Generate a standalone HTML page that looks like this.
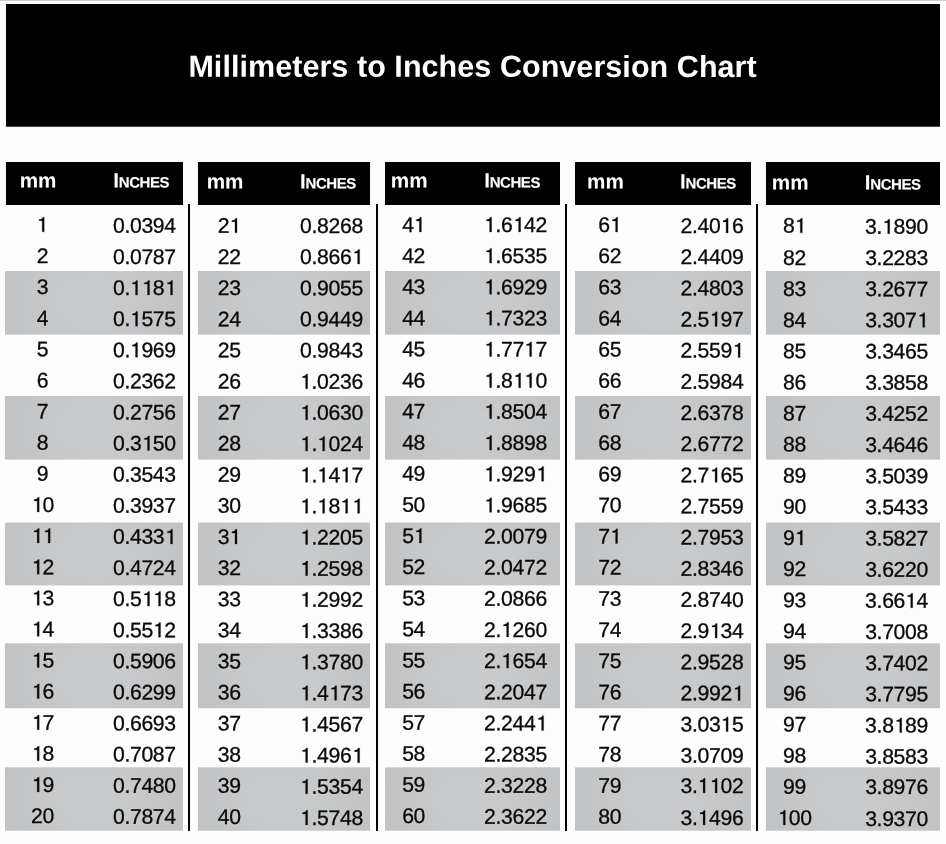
<!DOCTYPE html>
<html><head><meta charset="utf-8"><title>Millimeters to Inches Conversion Chart</title>
<style>
html,body{margin:0;padding:0;}
body{width:946px;height:844px;background:#fdfdfd;position:relative;overflow:hidden;font-family:"Liberation Sans",sans-serif;color:#000;}
#w{position:absolute;left:0;top:0;width:946px;height:844px;will-change:transform;}
.a{position:absolute;}
.t{position:absolute;white-space:nowrap;line-height:1;font-kerning:none;}
.n{font-size:21.2px;letter-spacing:-0.33px;color:#080808;-webkit-text-stroke:0.3px #080808;}
.o{width:11.79px;height:15.03px;margin-right:-0.33px;vertical-align:baseline;overflow:visible;fill:#080808;stroke:#080808;stroke-width:12;}
.m{width:100px;text-align:center;}
.i{width:100px;text-align:right;}
.h{font-weight:bold;color:#fff;font-size:20.7px;}
.hi span{display:inline-block;transform-origin:0 84.67%;}
.ci{transform:scaleY(1.0);}
.sc{font-size:15.0px;margin-left:-0.2px;letter-spacing:-0.45px;-webkit-text-stroke:0.15px #fff;transform:scaleY(1.0);}
.k{background:#000;}
.g{background:radial-gradient(ellipse 75% 150% at 50% 50%,#cbccce 0%,#c5c6c8 50%,#bcbdbf 100%);}
.e{background:#c2c3c5;}

</style></head>
<body><div id="w">
<div class="a" style="left:0;top:0;width:946px;height:1px;background:#cfcfcf"></div>
<div class="a k" style="left:6px;top:4px;width:934px;height:122px"></div><div class="a k" style="left:6px;top:126px;width:934px;height:1px;opacity:.72"></div>
<div class="t" id="title" style="left:188px;top:50px;transform:translate(0.40px,0.83px) rotate(0.03deg);font-size:30.5px;letter-spacing:0.06px;font-weight:bold;color:#fff">Millimeters to Inches Conversion Chart</div>
<div class="a k" style="left:6px;top:162px;width:177px;height:43px"></div>
<div class="a g" style="left:5px;top:271px;width:178px;height:63px"></div>
<div class="a e" style="left:5px;top:334px;width:178px;height:1px;opacity:0.60"></div>
<div class="a g" style="left:5px;top:396px;width:178px;height:63px"></div>
<div class="a e" style="left:5px;top:459px;width:178px;height:1px;opacity:0.60"></div>
<div class="a g" style="left:5px;top:523px;width:178px;height:62px"></div>
<div class="a e" style="left:5px;top:522px;width:178px;height:1px;opacity:0.50"></div>
<div class="a e" style="left:5px;top:585px;width:178px;height:1px;opacity:0.40"></div>
<div class="a g" style="left:5px;top:644px;width:178px;height:64px"></div>
<div class="a e" style="left:5px;top:643px;width:178px;height:1px;opacity:0.70"></div>
<div class="a e" style="left:5px;top:708px;width:178px;height:1px;opacity:0.20"></div>
<div class="a g" style="left:5px;top:768px;width:178px;height:62px"></div>
<div class="a e" style="left:5px;top:767px;width:178px;height:1px;opacity:0.70"></div>
<div class="a e" style="left:5px;top:830px;width:178px;height:1px;opacity:0.70"></div>
<div class="t h" id="hm0" style="left:19px;top:170px;transform:translate(0.64px,0.52px) rotate(0.03deg)">mm</div>
<div class="t h hi" id="hi0" style="left:113px;top:170px;transform:translate(0.25px,0.52px) rotate(0.03deg)"><span class="ci">I</span><span class="sc">NCHES</span></div>
<div class="t n m" id="m1" style="left:-8px;top:213px;transform:translate(0.44px,0.84px) rotate(0.03deg)"><svg class="o" viewBox="0 -709 556 709"><path d="M272,0H366V-690H306C294,-635 246,-592 126,-580V-520H272Z"/></svg></div><div class="t n i" id="i1" style="left:75px;top:214px;transform:translate(0.77px,0.79px) rotate(0.03deg)">0.0394</div>
<div class="t n m" id="m2" style="left:-8px;top:244px;transform:translate(0.44px,0.96px) rotate(0.03deg)">2</div><div class="t n i" id="i2" style="left:75px;top:245px;transform:translate(0.77px,0.90px) rotate(0.03deg)">0.0787</div>
<div class="t n m" id="m3" style="left:-8px;top:276px;transform:translate(0.44px,0.07px) rotate(0.03deg)">3</div><div class="t n i" id="i3" style="left:75px;top:277px;transform:translate(0.77px,0.00px) rotate(0.03deg)">0.<svg class="o" viewBox="0 -709 556 709"><path d="M272,0H366V-690H306C294,-635 246,-592 126,-580V-520H272Z"/></svg><svg class="o" viewBox="0 -709 556 709"><path d="M272,0H366V-690H306C294,-635 246,-592 126,-580V-520H272Z"/></svg>8<svg class="o" viewBox="0 -709 556 709"><path d="M272,0H366V-690H306C294,-635 246,-592 126,-580V-520H272Z"/></svg></div>
<div class="t n m" id="m4" style="left:-8px;top:307px;transform:translate(0.44px,0.19px) rotate(0.03deg)">4</div><div class="t n i" id="i4" style="left:75px;top:308px;transform:translate(0.77px,0.11px) rotate(0.03deg)">0.<svg class="o" viewBox="0 -709 556 709"><path d="M272,0H366V-690H306C294,-635 246,-592 126,-580V-520H272Z"/></svg>575</div>
<div class="t n m" id="m5" style="left:-8px;top:338px;transform:translate(0.44px,0.31px) rotate(0.03deg)">5</div><div class="t n i" id="i5" style="left:75px;top:339px;transform:translate(0.77px,0.21px) rotate(0.03deg)">0.<svg class="o" viewBox="0 -709 556 709"><path d="M272,0H366V-690H306C294,-635 246,-592 126,-580V-520H272Z"/></svg>969</div>
<div class="t n m" id="m6" style="left:-8px;top:369px;transform:translate(0.44px,0.43px) rotate(0.03deg)">6</div><div class="t n i" id="i6" style="left:75px;top:370px;transform:translate(0.77px,0.32px) rotate(0.03deg)">0.2362</div>
<div class="t n m" id="m7" style="left:-8px;top:400px;transform:translate(0.44px,0.54px) rotate(0.03deg)">7</div><div class="t n i" id="i7" style="left:75px;top:401px;transform:translate(0.77px,0.42px) rotate(0.03deg)">0.2756</div>
<div class="t n m" id="m8" style="left:-8px;top:431px;transform:translate(0.44px,0.66px) rotate(0.03deg)">8</div><div class="t n i" id="i8" style="left:75px;top:432px;transform:translate(0.77px,0.53px) rotate(0.03deg)">0.3<svg class="o" viewBox="0 -709 556 709"><path d="M272,0H366V-690H306C294,-635 246,-592 126,-580V-520H272Z"/></svg>50</div>
<div class="t n m" id="m9" style="left:-8px;top:462px;transform:translate(0.44px,0.78px) rotate(0.03deg)">9</div><div class="t n i" id="i9" style="left:75px;top:463px;transform:translate(0.77px,0.63px) rotate(0.03deg)">0.3543</div>
<div class="t n m" id="m10" style="left:-8px;top:493px;transform:translate(0.44px,0.89px) rotate(0.03deg)"><svg class="o" viewBox="0 -709 556 709"><path d="M272,0H366V-690H306C294,-635 246,-592 126,-580V-520H272Z"/></svg>0</div><div class="t n i" id="i10" style="left:75px;top:494px;transform:translate(0.77px,0.74px) rotate(0.03deg)">0.3937</div>
<div class="t n m" id="m11" style="left:-8px;top:525px;transform:translate(0.44px,0.01px) rotate(0.03deg)"><svg class="o" viewBox="0 -709 556 709"><path d="M272,0H366V-690H306C294,-635 246,-592 126,-580V-520H272Z"/></svg><svg class="o" viewBox="0 -709 556 709"><path d="M272,0H366V-690H306C294,-635 246,-592 126,-580V-520H272Z"/></svg></div><div class="t n i" id="i11" style="left:75px;top:525px;transform:translate(0.77px,0.84px) rotate(0.03deg)">0.433<svg class="o" viewBox="0 -709 556 709"><path d="M272,0H366V-690H306C294,-635 246,-592 126,-580V-520H272Z"/></svg></div>
<div class="t n m" id="m12" style="left:-8px;top:556px;transform:translate(0.44px,0.13px) rotate(0.03deg)"><svg class="o" viewBox="0 -709 556 709"><path d="M272,0H366V-690H306C294,-635 246,-592 126,-580V-520H272Z"/></svg>2</div><div class="t n i" id="i12" style="left:75px;top:556px;transform:translate(0.77px,0.95px) rotate(0.03deg)">0.4724</div>
<div class="t n m" id="m13" style="left:-8px;top:587px;transform:translate(0.44px,0.24px) rotate(0.03deg)"><svg class="o" viewBox="0 -709 556 709"><path d="M272,0H366V-690H306C294,-635 246,-592 126,-580V-520H272Z"/></svg>3</div><div class="t n i" id="i13" style="left:75px;top:588px;transform:translate(0.77px,0.05px) rotate(0.03deg)">0.5<svg class="o" viewBox="0 -709 556 709"><path d="M272,0H366V-690H306C294,-635 246,-592 126,-580V-520H272Z"/></svg><svg class="o" viewBox="0 -709 556 709"><path d="M272,0H366V-690H306C294,-635 246,-592 126,-580V-520H272Z"/></svg>8</div>
<div class="t n m" id="m14" style="left:-8px;top:618px;transform:translate(0.44px,0.36px) rotate(0.03deg)"><svg class="o" viewBox="0 -709 556 709"><path d="M272,0H366V-690H306C294,-635 246,-592 126,-580V-520H272Z"/></svg>4</div><div class="t n i" id="i14" style="left:75px;top:619px;transform:translate(0.77px,0.16px) rotate(0.03deg)">0.55<svg class="o" viewBox="0 -709 556 709"><path d="M272,0H366V-690H306C294,-635 246,-592 126,-580V-520H272Z"/></svg>2</div>
<div class="t n m" id="m15" style="left:-8px;top:649px;transform:translate(0.44px,0.48px) rotate(0.03deg)"><svg class="o" viewBox="0 -709 556 709"><path d="M272,0H366V-690H306C294,-635 246,-592 126,-580V-520H272Z"/></svg>5</div><div class="t n i" id="i15" style="left:75px;top:650px;transform:translate(0.77px,0.26px) rotate(0.03deg)">0.5906</div>
<div class="t n m" id="m16" style="left:-8px;top:680px;transform:translate(0.44px,0.60px) rotate(0.03deg)"><svg class="o" viewBox="0 -709 556 709"><path d="M272,0H366V-690H306C294,-635 246,-592 126,-580V-520H272Z"/></svg>6</div><div class="t n i" id="i16" style="left:75px;top:681px;transform:translate(0.77px,0.37px) rotate(0.03deg)">0.6299</div>
<div class="t n m" id="m17" style="left:-8px;top:711px;transform:translate(0.44px,0.71px) rotate(0.03deg)"><svg class="o" viewBox="0 -709 556 709"><path d="M272,0H366V-690H306C294,-635 246,-592 126,-580V-520H272Z"/></svg>7</div><div class="t n i" id="i17" style="left:75px;top:712px;transform:translate(0.77px,0.47px) rotate(0.03deg)">0.6693</div>
<div class="t n m" id="m18" style="left:-8px;top:742px;transform:translate(0.44px,0.83px) rotate(0.03deg)"><svg class="o" viewBox="0 -709 556 709"><path d="M272,0H366V-690H306C294,-635 246,-592 126,-580V-520H272Z"/></svg>8</div><div class="t n i" id="i18" style="left:75px;top:743px;transform:translate(0.77px,0.58px) rotate(0.03deg)">0.7087</div>
<div class="t n m" id="m19" style="left:-8px;top:773px;transform:translate(0.44px,0.95px) rotate(0.03deg)"><svg class="o" viewBox="0 -709 556 709"><path d="M272,0H366V-690H306C294,-635 246,-592 126,-580V-520H272Z"/></svg>9</div><div class="t n i" id="i19" style="left:75px;top:774px;transform:translate(0.77px,0.68px) rotate(0.03deg)">0.7480</div>
<div class="t n m" id="m20" style="left:-8px;top:805px;transform:translate(0.44px,0.06px) rotate(0.03deg)">20</div><div class="t n i" id="i20" style="left:75px;top:805px;transform:translate(0.77px,0.79px) rotate(0.03deg)">0.7874</div>
<div class="a k" style="left:198px;top:162px;width:172px;height:43px"></div>
<div class="a g" style="left:198px;top:271px;width:172px;height:63px"></div>
<div class="a e" style="left:198px;top:334px;width:172px;height:1px;opacity:0.60"></div>
<div class="a g" style="left:198px;top:396px;width:172px;height:63px"></div>
<div class="a e" style="left:198px;top:459px;width:172px;height:1px;opacity:0.60"></div>
<div class="a g" style="left:198px;top:523px;width:172px;height:62px"></div>
<div class="a e" style="left:198px;top:522px;width:172px;height:1px;opacity:0.50"></div>
<div class="a e" style="left:198px;top:585px;width:172px;height:1px;opacity:0.40"></div>
<div class="a g" style="left:198px;top:644px;width:172px;height:64px"></div>
<div class="a e" style="left:198px;top:643px;width:172px;height:1px;opacity:0.70"></div>
<div class="a e" style="left:198px;top:708px;width:172px;height:1px;opacity:0.20"></div>
<div class="a g" style="left:198px;top:768px;width:172px;height:62px"></div>
<div class="a e" style="left:198px;top:767px;width:172px;height:1px;opacity:0.70"></div>
<div class="a e" style="left:198px;top:830px;width:172px;height:1px;opacity:0.70"></div>
<div class="t h" id="hm1" style="left:206px;top:171px;transform:translate(0.64px,0.52px) rotate(0.03deg)">mm</div>
<div class="t h hi" id="hi1" style="left:299px;top:171px;transform:translate(0.95px,0.52px) rotate(0.03deg)"><span class="ci">I</span><span class="sc">NCHES</span></div>
<div class="t n m" id="m21" style="left:179px;top:214px;transform:translate(0.24px,0.84px) rotate(0.03deg)">2<svg class="o" viewBox="0 -709 556 709"><path d="M272,0H366V-690H306C294,-635 246,-592 126,-580V-520H272Z"/></svg></div><div class="t n i" id="i21" style="left:262px;top:214px;transform:translate(0.87px,0.89px) rotate(0.03deg)">0.8268</div>
<div class="t n m" id="m22" style="left:179px;top:245px;transform:translate(0.24px,0.95px) rotate(0.03deg)">22</div><div class="t n i" id="i22" style="left:262px;top:246px;transform:translate(0.87px,0.05px) rotate(0.03deg)">0.866<svg class="o" viewBox="0 -709 556 709"><path d="M272,0H366V-690H306C294,-635 246,-592 126,-580V-520H272Z"/></svg></div>
<div class="t n m" id="m23" style="left:179px;top:277px;transform:translate(0.24px,0.06px) rotate(0.03deg)">23</div><div class="t n i" id="i23" style="left:262px;top:277px;transform:translate(0.87px,0.21px) rotate(0.03deg)">0.9055</div>
<div class="t n m" id="m24" style="left:179px;top:308px;transform:translate(0.24px,0.17px) rotate(0.03deg)">24</div><div class="t n i" id="i24" style="left:262px;top:308px;transform:translate(0.87px,0.37px) rotate(0.03deg)">0.9449</div>
<div class="t n m" id="m25" style="left:179px;top:339px;transform:translate(0.24px,0.28px) rotate(0.03deg)">25</div><div class="t n i" id="i25" style="left:262px;top:339px;transform:translate(0.87px,0.53px) rotate(0.03deg)">0.9843</div>
<div class="t n m" id="m26" style="left:179px;top:370px;transform:translate(0.24px,0.39px) rotate(0.03deg)">26</div><div class="t n i" id="i26" style="left:262px;top:370px;transform:translate(0.87px,0.69px) rotate(0.03deg)"><svg class="o" viewBox="0 -709 556 709"><path d="M272,0H366V-690H306C294,-635 246,-592 126,-580V-520H272Z"/></svg>.0236</div>
<div class="t n m" id="m27" style="left:179px;top:401px;transform:translate(0.24px,0.50px) rotate(0.03deg)">27</div><div class="t n i" id="i27" style="left:262px;top:401px;transform:translate(0.87px,0.85px) rotate(0.03deg)"><svg class="o" viewBox="0 -709 556 709"><path d="M272,0H366V-690H306C294,-635 246,-592 126,-580V-520H272Z"/></svg>.0630</div>
<div class="t n m" id="m28" style="left:179px;top:432px;transform:translate(0.24px,0.61px) rotate(0.03deg)">28</div><div class="t n i" id="i28" style="left:262px;top:433px;transform:translate(0.87px,0.01px) rotate(0.03deg)"><svg class="o" viewBox="0 -709 556 709"><path d="M272,0H366V-690H306C294,-635 246,-592 126,-580V-520H272Z"/></svg>.<svg class="o" viewBox="0 -709 556 709"><path d="M272,0H366V-690H306C294,-635 246,-592 126,-580V-520H272Z"/></svg>024</div>
<div class="t n m" id="m29" style="left:179px;top:463px;transform:translate(0.24px,0.72px) rotate(0.03deg)">29</div><div class="t n i" id="i29" style="left:262px;top:464px;transform:translate(0.87px,0.17px) rotate(0.03deg)"><svg class="o" viewBox="0 -709 556 709"><path d="M272,0H366V-690H306C294,-635 246,-592 126,-580V-520H272Z"/></svg>.<svg class="o" viewBox="0 -709 556 709"><path d="M272,0H366V-690H306C294,-635 246,-592 126,-580V-520H272Z"/></svg>4<svg class="o" viewBox="0 -709 556 709"><path d="M272,0H366V-690H306C294,-635 246,-592 126,-580V-520H272Z"/></svg>7</div>
<div class="t n m" id="m30" style="left:179px;top:494px;transform:translate(0.24px,0.83px) rotate(0.03deg)">30</div><div class="t n i" id="i30" style="left:262px;top:495px;transform:translate(0.87px,0.33px) rotate(0.03deg)"><svg class="o" viewBox="0 -709 556 709"><path d="M272,0H366V-690H306C294,-635 246,-592 126,-580V-520H272Z"/></svg>.<svg class="o" viewBox="0 -709 556 709"><path d="M272,0H366V-690H306C294,-635 246,-592 126,-580V-520H272Z"/></svg>8<svg class="o" viewBox="0 -709 556 709"><path d="M272,0H366V-690H306C294,-635 246,-592 126,-580V-520H272Z"/></svg><svg class="o" viewBox="0 -709 556 709"><path d="M272,0H366V-690H306C294,-635 246,-592 126,-580V-520H272Z"/></svg></div>
<div class="t n m" id="m31" style="left:179px;top:525px;transform:translate(0.24px,0.94px) rotate(0.03deg)">3<svg class="o" viewBox="0 -709 556 709"><path d="M272,0H366V-690H306C294,-635 246,-592 126,-580V-520H272Z"/></svg></div><div class="t n i" id="i31" style="left:262px;top:526px;transform:translate(0.87px,0.49px) rotate(0.03deg)"><svg class="o" viewBox="0 -709 556 709"><path d="M272,0H366V-690H306C294,-635 246,-592 126,-580V-520H272Z"/></svg>.2205</div>
<div class="t n m" id="m32" style="left:179px;top:557px;transform:translate(0.24px,0.05px) rotate(0.03deg)">32</div><div class="t n i" id="i32" style="left:262px;top:557px;transform:translate(0.87px,0.65px) rotate(0.03deg)"><svg class="o" viewBox="0 -709 556 709"><path d="M272,0H366V-690H306C294,-635 246,-592 126,-580V-520H272Z"/></svg>.2598</div>
<div class="t n m" id="m33" style="left:179px;top:588px;transform:translate(0.24px,0.16px) rotate(0.03deg)">33</div><div class="t n i" id="i33" style="left:262px;top:588px;transform:translate(0.87px,0.81px) rotate(0.03deg)"><svg class="o" viewBox="0 -709 556 709"><path d="M272,0H366V-690H306C294,-635 246,-592 126,-580V-520H272Z"/></svg>.2992</div>
<div class="t n m" id="m34" style="left:179px;top:619px;transform:translate(0.24px,0.27px) rotate(0.03deg)">34</div><div class="t n i" id="i34" style="left:262px;top:619px;transform:translate(0.87px,0.97px) rotate(0.03deg)"><svg class="o" viewBox="0 -709 556 709"><path d="M272,0H366V-690H306C294,-635 246,-592 126,-580V-520H272Z"/></svg>.3386</div>
<div class="t n m" id="m35" style="left:179px;top:650px;transform:translate(0.24px,0.38px) rotate(0.03deg)">35</div><div class="t n i" id="i35" style="left:262px;top:651px;transform:translate(0.87px,0.13px) rotate(0.03deg)"><svg class="o" viewBox="0 -709 556 709"><path d="M272,0H366V-690H306C294,-635 246,-592 126,-580V-520H272Z"/></svg>.3780</div>
<div class="t n m" id="m36" style="left:179px;top:681px;transform:translate(0.24px,0.49px) rotate(0.03deg)">36</div><div class="t n i" id="i36" style="left:262px;top:682px;transform:translate(0.87px,0.29px) rotate(0.03deg)"><svg class="o" viewBox="0 -709 556 709"><path d="M272,0H366V-690H306C294,-635 246,-592 126,-580V-520H272Z"/></svg>.4<svg class="o" viewBox="0 -709 556 709"><path d="M272,0H366V-690H306C294,-635 246,-592 126,-580V-520H272Z"/></svg>73</div>
<div class="t n m" id="m37" style="left:179px;top:712px;transform:translate(0.24px,0.60px) rotate(0.03deg)">37</div><div class="t n i" id="i37" style="left:262px;top:713px;transform:translate(0.87px,0.45px) rotate(0.03deg)"><svg class="o" viewBox="0 -709 556 709"><path d="M272,0H366V-690H306C294,-635 246,-592 126,-580V-520H272Z"/></svg>.4567</div>
<div class="t n m" id="m38" style="left:179px;top:743px;transform:translate(0.24px,0.71px) rotate(0.03deg)">38</div><div class="t n i" id="i38" style="left:262px;top:744px;transform:translate(0.87px,0.61px) rotate(0.03deg)"><svg class="o" viewBox="0 -709 556 709"><path d="M272,0H366V-690H306C294,-635 246,-592 126,-580V-520H272Z"/></svg>.496<svg class="o" viewBox="0 -709 556 709"><path d="M272,0H366V-690H306C294,-635 246,-592 126,-580V-520H272Z"/></svg></div>
<div class="t n m" id="m39" style="left:179px;top:774px;transform:translate(0.24px,0.82px) rotate(0.03deg)">39</div><div class="t n i" id="i39" style="left:262px;top:775px;transform:translate(0.87px,0.77px) rotate(0.03deg)"><svg class="o" viewBox="0 -709 556 709"><path d="M272,0H366V-690H306C294,-635 246,-592 126,-580V-520H272Z"/></svg>.5354</div>
<div class="t n m" id="m40" style="left:179px;top:805px;transform:translate(0.24px,0.93px) rotate(0.03deg)">40</div><div class="t n i" id="i40" style="left:262px;top:806px;transform:translate(0.87px,0.93px) rotate(0.03deg)"><svg class="o" viewBox="0 -709 556 709"><path d="M272,0H366V-690H306C294,-635 246,-592 126,-580V-520H272Z"/></svg>.5748</div>
<div class="a k" style="left:385px;top:162px;width:175px;height:43px"></div>
<div class="a g" style="left:385px;top:271px;width:175px;height:63px"></div>
<div class="a e" style="left:385px;top:334px;width:175px;height:1px;opacity:0.60"></div>
<div class="a g" style="left:385px;top:396px;width:175px;height:63px"></div>
<div class="a e" style="left:385px;top:459px;width:175px;height:1px;opacity:0.60"></div>
<div class="a g" style="left:385px;top:523px;width:175px;height:62px"></div>
<div class="a e" style="left:385px;top:522px;width:175px;height:1px;opacity:0.50"></div>
<div class="a e" style="left:385px;top:585px;width:175px;height:1px;opacity:0.40"></div>
<div class="a g" style="left:385px;top:644px;width:175px;height:64px"></div>
<div class="a e" style="left:385px;top:643px;width:175px;height:1px;opacity:0.70"></div>
<div class="a e" style="left:385px;top:708px;width:175px;height:1px;opacity:0.20"></div>
<div class="a g" style="left:385px;top:768px;width:175px;height:62px"></div>
<div class="a e" style="left:385px;top:767px;width:175px;height:1px;opacity:0.70"></div>
<div class="a e" style="left:385px;top:830px;width:175px;height:1px;opacity:0.70"></div>
<div class="t h" id="hm2" style="left:390px;top:170px;transform:translate(0.74px,0.62px) rotate(0.03deg)">mm</div>
<div class="t h hi" id="hi2" style="left:484px;top:170px;transform:translate(0.15px,0.62px) rotate(0.03deg)"><span class="ci">I</span><span class="sc">NCHES</span></div>
<div class="t n m" id="m41" style="left:363px;top:213px;transform:translate(0.63px,0.89px) rotate(0.03deg)">4<svg class="o" viewBox="0 -709 556 709"><path d="M272,0H366V-690H306C294,-635 246,-592 126,-580V-520H272Z"/></svg></div><div class="t n i" id="i41" style="left:446px;top:213px;transform:translate(0.87px,0.89px) rotate(0.03deg)"><svg class="o" viewBox="0 -709 556 709"><path d="M272,0H366V-690H306C294,-635 246,-592 126,-580V-520H272Z"/></svg>.6<svg class="o" viewBox="0 -709 556 709"><path d="M272,0H366V-690H306C294,-635 246,-592 126,-580V-520H272Z"/></svg>42</div>
<div class="t n m" id="m42" style="left:363px;top:245px;transform:translate(0.63px,0.00px) rotate(0.03deg)">42</div><div class="t n i" id="i42" style="left:446px;top:245px;transform:translate(0.87px,0.05px) rotate(0.03deg)"><svg class="o" viewBox="0 -709 556 709"><path d="M272,0H366V-690H306C294,-635 246,-592 126,-580V-520H272Z"/></svg>.6535</div>
<div class="t n m" id="m43" style="left:363px;top:276px;transform:translate(0.63px,0.11px) rotate(0.03deg)">43</div><div class="t n i" id="i43" style="left:446px;top:276px;transform:translate(0.87px,0.20px) rotate(0.03deg)"><svg class="o" viewBox="0 -709 556 709"><path d="M272,0H366V-690H306C294,-635 246,-592 126,-580V-520H272Z"/></svg>.6929</div>
<div class="t n m" id="m44" style="left:363px;top:307px;transform:translate(0.63px,0.22px) rotate(0.03deg)">44</div><div class="t n i" id="i44" style="left:446px;top:307px;transform:translate(0.87px,0.36px) rotate(0.03deg)"><svg class="o" viewBox="0 -709 556 709"><path d="M272,0H366V-690H306C294,-635 246,-592 126,-580V-520H272Z"/></svg>.7323</div>
<div class="t n m" id="m45" style="left:363px;top:338px;transform:translate(0.63px,0.33px) rotate(0.03deg)">45</div><div class="t n i" id="i45" style="left:446px;top:338px;transform:translate(0.87px,0.51px) rotate(0.03deg)"><svg class="o" viewBox="0 -709 556 709"><path d="M272,0H366V-690H306C294,-635 246,-592 126,-580V-520H272Z"/></svg>.77<svg class="o" viewBox="0 -709 556 709"><path d="M272,0H366V-690H306C294,-635 246,-592 126,-580V-520H272Z"/></svg>7</div>
<div class="t n m" id="m46" style="left:363px;top:369px;transform:translate(0.63px,0.44px) rotate(0.03deg)">46</div><div class="t n i" id="i46" style="left:446px;top:369px;transform:translate(0.87px,0.67px) rotate(0.03deg)"><svg class="o" viewBox="0 -709 556 709"><path d="M272,0H366V-690H306C294,-635 246,-592 126,-580V-520H272Z"/></svg>.8<svg class="o" viewBox="0 -709 556 709"><path d="M272,0H366V-690H306C294,-635 246,-592 126,-580V-520H272Z"/></svg><svg class="o" viewBox="0 -709 556 709"><path d="M272,0H366V-690H306C294,-635 246,-592 126,-580V-520H272Z"/></svg>0</div>
<div class="t n m" id="m47" style="left:363px;top:400px;transform:translate(0.63px,0.55px) rotate(0.03deg)">47</div><div class="t n i" id="i47" style="left:446px;top:400px;transform:translate(0.87px,0.82px) rotate(0.03deg)"><svg class="o" viewBox="0 -709 556 709"><path d="M272,0H366V-690H306C294,-635 246,-592 126,-580V-520H272Z"/></svg>.8504</div>
<div class="t n m" id="m48" style="left:363px;top:431px;transform:translate(0.63px,0.66px) rotate(0.03deg)">48</div><div class="t n i" id="i48" style="left:446px;top:431px;transform:translate(0.87px,0.98px) rotate(0.03deg)"><svg class="o" viewBox="0 -709 556 709"><path d="M272,0H366V-690H306C294,-635 246,-592 126,-580V-520H272Z"/></svg>.8898</div>
<div class="t n m" id="m49" style="left:363px;top:462px;transform:translate(0.63px,0.77px) rotate(0.03deg)">49</div><div class="t n i" id="i49" style="left:446px;top:463px;transform:translate(0.87px,0.13px) rotate(0.03deg)"><svg class="o" viewBox="0 -709 556 709"><path d="M272,0H366V-690H306C294,-635 246,-592 126,-580V-520H272Z"/></svg>.929<svg class="o" viewBox="0 -709 556 709"><path d="M272,0H366V-690H306C294,-635 246,-592 126,-580V-520H272Z"/></svg></div>
<div class="t n m" id="m50" style="left:363px;top:493px;transform:translate(0.63px,0.88px) rotate(0.03deg)">50</div><div class="t n i" id="i50" style="left:446px;top:494px;transform:translate(0.87px,0.29px) rotate(0.03deg)"><svg class="o" viewBox="0 -709 556 709"><path d="M272,0H366V-690H306C294,-635 246,-592 126,-580V-520H272Z"/></svg>.9685</div>
<div class="t n m" id="m51" style="left:363px;top:524px;transform:translate(0.63px,0.99px) rotate(0.03deg)">5<svg class="o" viewBox="0 -709 556 709"><path d="M272,0H366V-690H306C294,-635 246,-592 126,-580V-520H272Z"/></svg></div><div class="t n i" id="i51" style="left:446px;top:525px;transform:translate(0.87px,0.44px) rotate(0.03deg)">2.0079</div>
<div class="t n m" id="m52" style="left:363px;top:556px;transform:translate(0.63px,0.10px) rotate(0.03deg)">52</div><div class="t n i" id="i52" style="left:446px;top:556px;transform:translate(0.87px,0.60px) rotate(0.03deg)">2.0472</div>
<div class="t n m" id="m53" style="left:363px;top:587px;transform:translate(0.63px,0.21px) rotate(0.03deg)">53</div><div class="t n i" id="i53" style="left:446px;top:587px;transform:translate(0.87px,0.75px) rotate(0.03deg)">2.0866</div>
<div class="t n m" id="m54" style="left:363px;top:618px;transform:translate(0.63px,0.32px) rotate(0.03deg)">54</div><div class="t n i" id="i54" style="left:446px;top:618px;transform:translate(0.87px,0.91px) rotate(0.03deg)">2.<svg class="o" viewBox="0 -709 556 709"><path d="M272,0H366V-690H306C294,-635 246,-592 126,-580V-520H272Z"/></svg>260</div>
<div class="t n m" id="m55" style="left:363px;top:649px;transform:translate(0.63px,0.43px) rotate(0.03deg)">55</div><div class="t n i" id="i55" style="left:446px;top:650px;transform:translate(0.87px,0.06px) rotate(0.03deg)">2.<svg class="o" viewBox="0 -709 556 709"><path d="M272,0H366V-690H306C294,-635 246,-592 126,-580V-520H272Z"/></svg>654</div>
<div class="t n m" id="m56" style="left:363px;top:680px;transform:translate(0.63px,0.54px) rotate(0.03deg)">56</div><div class="t n i" id="i56" style="left:446px;top:681px;transform:translate(0.87px,0.22px) rotate(0.03deg)">2.2047</div>
<div class="t n m" id="m57" style="left:363px;top:711px;transform:translate(0.63px,0.65px) rotate(0.03deg)">57</div><div class="t n i" id="i57" style="left:446px;top:712px;transform:translate(0.87px,0.37px) rotate(0.03deg)">2.244<svg class="o" viewBox="0 -709 556 709"><path d="M272,0H366V-690H306C294,-635 246,-592 126,-580V-520H272Z"/></svg></div>
<div class="t n m" id="m58" style="left:363px;top:742px;transform:translate(0.63px,0.76px) rotate(0.03deg)">58</div><div class="t n i" id="i58" style="left:446px;top:743px;transform:translate(0.87px,0.53px) rotate(0.03deg)">2.2835</div>
<div class="t n m" id="m59" style="left:363px;top:773px;transform:translate(0.63px,0.87px) rotate(0.03deg)">59</div><div class="t n i" id="i59" style="left:446px;top:774px;transform:translate(0.87px,0.68px) rotate(0.03deg)">2.3228</div>
<div class="t n m" id="m60" style="left:363px;top:804px;transform:translate(0.63px,0.98px) rotate(0.03deg)">60</div><div class="t n i" id="i60" style="left:446px;top:805px;transform:translate(0.87px,0.84px) rotate(0.03deg)">2.3622</div>
<div class="a k" style="left:575px;top:162px;width:176px;height:43px"></div>
<div class="a g" style="left:575px;top:271px;width:176px;height:63px"></div>
<div class="a e" style="left:575px;top:334px;width:176px;height:1px;opacity:0.60"></div>
<div class="a g" style="left:575px;top:396px;width:176px;height:63px"></div>
<div class="a e" style="left:575px;top:459px;width:176px;height:1px;opacity:0.60"></div>
<div class="a g" style="left:575px;top:523px;width:176px;height:62px"></div>
<div class="a e" style="left:575px;top:522px;width:176px;height:1px;opacity:0.50"></div>
<div class="a e" style="left:575px;top:585px;width:176px;height:1px;opacity:0.40"></div>
<div class="a g" style="left:575px;top:644px;width:176px;height:64px"></div>
<div class="a e" style="left:575px;top:643px;width:176px;height:1px;opacity:0.70"></div>
<div class="a e" style="left:575px;top:708px;width:176px;height:1px;opacity:0.20"></div>
<div class="a g" style="left:575px;top:768px;width:176px;height:62px"></div>
<div class="a e" style="left:575px;top:767px;width:176px;height:1px;opacity:0.70"></div>
<div class="a e" style="left:575px;top:830px;width:176px;height:1px;opacity:0.70"></div>
<div class="t h" id="hm3" style="left:587px;top:171px;transform:translate(0.04px,0.52px) rotate(0.03deg)">mm</div>
<div class="t h hi" id="hi3" style="left:680px;top:171px;transform:translate(0.05px,0.52px) rotate(0.03deg)"><span class="ci">I</span><span class="sc">NCHES</span></div>
<div class="t n m" id="m61" style="left:559px;top:213px;transform:translate(0.84px,0.94px) rotate(0.03deg)">6<svg class="o" viewBox="0 -709 556 709"><path d="M272,0H366V-690H306C294,-635 246,-592 126,-580V-520H272Z"/></svg></div><div class="t n i" id="i61" style="left:643px;top:214px;transform:translate(0.37px,0.94px) rotate(0.03deg)">2.40<svg class="o" viewBox="0 -709 556 709"><path d="M272,0H366V-690H306C294,-635 246,-592 126,-580V-520H272Z"/></svg>6</div>
<div class="t n m" id="m62" style="left:559px;top:245px;transform:translate(0.84px,0.09px) rotate(0.03deg)">62</div><div class="t n i" id="i62" style="left:643px;top:246px;transform:translate(0.37px,0.10px) rotate(0.03deg)">2.4409</div>
<div class="t n m" id="m63" style="left:559px;top:276px;transform:translate(0.84px,0.24px) rotate(0.03deg)">63</div><div class="t n i" id="i63" style="left:643px;top:277px;transform:translate(0.37px,0.26px) rotate(0.03deg)">2.4803</div>
<div class="t n m" id="m64" style="left:559px;top:307px;transform:translate(0.84px,0.39px) rotate(0.03deg)">64</div><div class="t n i" id="i64" style="left:643px;top:308px;transform:translate(0.37px,0.42px) rotate(0.03deg)">2.5<svg class="o" viewBox="0 -709 556 709"><path d="M272,0H366V-690H306C294,-635 246,-592 126,-580V-520H272Z"/></svg>97</div>
<div class="t n m" id="m65" style="left:559px;top:338px;transform:translate(0.84px,0.54px) rotate(0.03deg)">65</div><div class="t n i" id="i65" style="left:643px;top:339px;transform:translate(0.37px,0.58px) rotate(0.03deg)">2.559<svg class="o" viewBox="0 -709 556 709"><path d="M272,0H366V-690H306C294,-635 246,-592 126,-580V-520H272Z"/></svg></div>
<div class="t n m" id="m66" style="left:559px;top:369px;transform:translate(0.84px,0.69px) rotate(0.03deg)">66</div><div class="t n i" id="i66" style="left:643px;top:370px;transform:translate(0.37px,0.74px) rotate(0.03deg)">2.5984</div>
<div class="t n m" id="m67" style="left:559px;top:400px;transform:translate(0.84px,0.84px) rotate(0.03deg)">67</div><div class="t n i" id="i67" style="left:643px;top:401px;transform:translate(0.37px,0.90px) rotate(0.03deg)">2.6378</div>
<div class="t n m" id="m68" style="left:559px;top:431px;transform:translate(0.84px,0.99px) rotate(0.03deg)">68</div><div class="t n i" id="i68" style="left:643px;top:433px;transform:translate(0.37px,0.06px) rotate(0.03deg)">2.6772</div>
<div class="t n m" id="m69" style="left:559px;top:463px;transform:translate(0.84px,0.14px) rotate(0.03deg)">69</div><div class="t n i" id="i69" style="left:643px;top:464px;transform:translate(0.37px,0.22px) rotate(0.03deg)">2.7<svg class="o" viewBox="0 -709 556 709"><path d="M272,0H366V-690H306C294,-635 246,-592 126,-580V-520H272Z"/></svg>65</div>
<div class="t n m" id="m70" style="left:559px;top:494px;transform:translate(0.84px,0.29px) rotate(0.03deg)">70</div><div class="t n i" id="i70" style="left:643px;top:495px;transform:translate(0.37px,0.38px) rotate(0.03deg)">2.7559</div>
<div class="t n m" id="m71" style="left:559px;top:525px;transform:translate(0.84px,0.44px) rotate(0.03deg)">7<svg class="o" viewBox="0 -709 556 709"><path d="M272,0H366V-690H306C294,-635 246,-592 126,-580V-520H272Z"/></svg></div><div class="t n i" id="i71" style="left:643px;top:526px;transform:translate(0.37px,0.54px) rotate(0.03deg)">2.7953</div>
<div class="t n m" id="m72" style="left:559px;top:556px;transform:translate(0.84px,0.59px) rotate(0.03deg)">72</div><div class="t n i" id="i72" style="left:643px;top:557px;transform:translate(0.37px,0.70px) rotate(0.03deg)">2.8346</div>
<div class="t n m" id="m73" style="left:559px;top:587px;transform:translate(0.84px,0.74px) rotate(0.03deg)">73</div><div class="t n i" id="i73" style="left:643px;top:588px;transform:translate(0.37px,0.86px) rotate(0.03deg)">2.8740</div>
<div class="t n m" id="m74" style="left:559px;top:618px;transform:translate(0.84px,0.89px) rotate(0.03deg)">74</div><div class="t n i" id="i74" style="left:643px;top:620px;transform:translate(0.37px,0.02px) rotate(0.03deg)">2.9<svg class="o" viewBox="0 -709 556 709"><path d="M272,0H366V-690H306C294,-635 246,-592 126,-580V-520H272Z"/></svg>34</div>
<div class="t n m" id="m75" style="left:559px;top:650px;transform:translate(0.84px,0.04px) rotate(0.03deg)">75</div><div class="t n i" id="i75" style="left:643px;top:651px;transform:translate(0.37px,0.18px) rotate(0.03deg)">2.9528</div>
<div class="t n m" id="m76" style="left:559px;top:681px;transform:translate(0.84px,0.19px) rotate(0.03deg)">76</div><div class="t n i" id="i76" style="left:643px;top:682px;transform:translate(0.37px,0.34px) rotate(0.03deg)">2.992<svg class="o" viewBox="0 -709 556 709"><path d="M272,0H366V-690H306C294,-635 246,-592 126,-580V-520H272Z"/></svg></div>
<div class="t n m" id="m77" style="left:559px;top:712px;transform:translate(0.84px,0.34px) rotate(0.03deg)">77</div><div class="t n i" id="i77" style="left:643px;top:713px;transform:translate(0.37px,0.50px) rotate(0.03deg)">3.03<svg class="o" viewBox="0 -709 556 709"><path d="M272,0H366V-690H306C294,-635 246,-592 126,-580V-520H272Z"/></svg>5</div>
<div class="t n m" id="m78" style="left:559px;top:743px;transform:translate(0.84px,0.49px) rotate(0.03deg)">78</div><div class="t n i" id="i78" style="left:643px;top:744px;transform:translate(0.37px,0.66px) rotate(0.03deg)">3.0709</div>
<div class="t n m" id="m79" style="left:559px;top:774px;transform:translate(0.84px,0.64px) rotate(0.03deg)">79</div><div class="t n i" id="i79" style="left:643px;top:774px;transform:translate(0.37px,0.92px) rotate(0.03deg)">3.<svg class="o" viewBox="0 -709 556 709"><path d="M272,0H366V-690H306C294,-635 246,-592 126,-580V-520H272Z"/></svg><svg class="o" viewBox="0 -709 556 709"><path d="M272,0H366V-690H306C294,-635 246,-592 126,-580V-520H272Z"/></svg>02</div>
<div class="t n m" id="m80" style="left:559px;top:805px;transform:translate(0.84px,0.79px) rotate(0.03deg)">80</div><div class="t n i" id="i80" style="left:643px;top:806px;transform:translate(0.37px,0.98px) rotate(0.03deg)">3.<svg class="o" viewBox="0 -709 556 709"><path d="M272,0H366V-690H306C294,-635 246,-592 126,-580V-520H272Z"/></svg>496</div>
<div class="a k" style="left:766px;top:162px;width:174px;height:43px"></div>
<div class="a g" style="left:766px;top:271px;width:174px;height:63px"></div>
<div class="a e" style="left:766px;top:334px;width:174px;height:1px;opacity:0.60"></div>
<div class="a g" style="left:766px;top:396px;width:174px;height:63px"></div>
<div class="a e" style="left:766px;top:459px;width:174px;height:1px;opacity:0.60"></div>
<div class="a g" style="left:766px;top:523px;width:174px;height:62px"></div>
<div class="a e" style="left:766px;top:522px;width:174px;height:1px;opacity:0.50"></div>
<div class="a e" style="left:766px;top:585px;width:174px;height:1px;opacity:0.40"></div>
<div class="a g" style="left:766px;top:644px;width:174px;height:64px"></div>
<div class="a e" style="left:766px;top:643px;width:174px;height:1px;opacity:0.70"></div>
<div class="a e" style="left:766px;top:708px;width:174px;height:1px;opacity:0.20"></div>
<div class="a g" style="left:766px;top:768px;width:174px;height:62px"></div>
<div class="a e" style="left:766px;top:767px;width:174px;height:1px;opacity:0.70"></div>
<div class="a e" style="left:766px;top:830px;width:174px;height:1px;opacity:0.70"></div>
<div class="t h" id="hm4" style="left:771px;top:172px;transform:translate(0.74px,0.52px) rotate(0.03deg)">mm</div>
<div class="t h hi" id="hi4" style="left:864px;top:172px;transform:translate(0.75px,0.52px) rotate(0.03deg)"><span class="ci">I</span><span class="sc">NCHES</span></div>
<div class="t n m" id="m81" style="left:744px;top:214px;transform:translate(0.54px,0.84px) rotate(0.03deg)">8<svg class="o" viewBox="0 -709 556 709"><path d="M272,0H366V-690H306C294,-635 246,-592 126,-580V-520H272Z"/></svg></div><div class="t n i" id="i81" style="left:827px;top:215px;transform:translate(0.97px,0.79px) rotate(0.03deg)">3.<svg class="o" viewBox="0 -709 556 709"><path d="M272,0H366V-690H306C294,-635 246,-592 126,-580V-520H272Z"/></svg>890</div>
<div class="t n m" id="m82" style="left:744px;top:246px;transform:translate(0.54px,0.95px) rotate(0.03deg)">82</div><div class="t n i" id="i82" style="left:827px;top:246px;transform:translate(0.97px,0.96px) rotate(0.03deg)">3.2283</div>
<div class="t n m" id="m83" style="left:744px;top:278px;transform:translate(0.54px,0.06px) rotate(0.03deg)">83</div><div class="t n i" id="i83" style="left:827px;top:278px;transform:translate(0.97px,0.13px) rotate(0.03deg)">3.2677</div>
<div class="t n m" id="m84" style="left:744px;top:309px;transform:translate(0.54px,0.17px) rotate(0.03deg)">84</div><div class="t n i" id="i84" style="left:827px;top:309px;transform:translate(0.97px,0.30px) rotate(0.03deg)">3.307<svg class="o" viewBox="0 -709 556 709"><path d="M272,0H366V-690H306C294,-635 246,-592 126,-580V-520H272Z"/></svg></div>
<div class="t n m" id="m85" style="left:744px;top:340px;transform:translate(0.54px,0.28px) rotate(0.03deg)">85</div><div class="t n i" id="i85" style="left:827px;top:340px;transform:translate(0.97px,0.47px) rotate(0.03deg)">3.3465</div>
<div class="t n m" id="m86" style="left:744px;top:371px;transform:translate(0.54px,0.39px) rotate(0.03deg)">86</div><div class="t n i" id="i86" style="left:827px;top:371px;transform:translate(0.97px,0.64px) rotate(0.03deg)">3.3858</div>
<div class="t n m" id="m87" style="left:744px;top:402px;transform:translate(0.54px,0.50px) rotate(0.03deg)">87</div><div class="t n i" id="i87" style="left:827px;top:402px;transform:translate(0.97px,0.81px) rotate(0.03deg)">3.4252</div>
<div class="t n m" id="m88" style="left:744px;top:433px;transform:translate(0.54px,0.61px) rotate(0.03deg)">88</div><div class="t n i" id="i88" style="left:827px;top:433px;transform:translate(0.97px,0.98px) rotate(0.03deg)">3.4646</div>
<div class="t n m" id="m89" style="left:744px;top:464px;transform:translate(0.54px,0.72px) rotate(0.03deg)">89</div><div class="t n i" id="i89" style="left:827px;top:465px;transform:translate(0.97px,0.15px) rotate(0.03deg)">3.5039</div>
<div class="t n m" id="m90" style="left:744px;top:495px;transform:translate(0.54px,0.83px) rotate(0.03deg)">90</div><div class="t n i" id="i90" style="left:827px;top:496px;transform:translate(0.97px,0.32px) rotate(0.03deg)">3.5433</div>
<div class="t n m" id="m91" style="left:744px;top:526px;transform:translate(0.54px,0.94px) rotate(0.03deg)">9<svg class="o" viewBox="0 -709 556 709"><path d="M272,0H366V-690H306C294,-635 246,-592 126,-580V-520H272Z"/></svg></div><div class="t n i" id="i91" style="left:827px;top:527px;transform:translate(0.97px,0.49px) rotate(0.03deg)">3.5827</div>
<div class="t n m" id="m92" style="left:744px;top:558px;transform:translate(0.54px,0.05px) rotate(0.03deg)">92</div><div class="t n i" id="i92" style="left:827px;top:558px;transform:translate(0.97px,0.66px) rotate(0.03deg)">3.6220</div>
<div class="t n m" id="m93" style="left:744px;top:589px;transform:translate(0.54px,0.16px) rotate(0.03deg)">93</div><div class="t n i" id="i93" style="left:827px;top:589px;transform:translate(0.97px,0.83px) rotate(0.03deg)">3.66<svg class="o" viewBox="0 -709 556 709"><path d="M272,0H366V-690H306C294,-635 246,-592 126,-580V-520H272Z"/></svg>4</div>
<div class="t n m" id="m94" style="left:744px;top:620px;transform:translate(0.54px,0.27px) rotate(0.03deg)">94</div><div class="t n i" id="i94" style="left:827px;top:621px;transform:translate(0.97px,0.00px) rotate(0.03deg)">3.7008</div>
<div class="t n m" id="m95" style="left:744px;top:651px;transform:translate(0.54px,0.38px) rotate(0.03deg)">95</div><div class="t n i" id="i95" style="left:827px;top:652px;transform:translate(0.97px,0.17px) rotate(0.03deg)">3.7402</div>
<div class="t n m" id="m96" style="left:744px;top:682px;transform:translate(0.54px,0.49px) rotate(0.03deg)">96</div><div class="t n i" id="i96" style="left:827px;top:683px;transform:translate(0.97px,0.34px) rotate(0.03deg)">3.7795</div>
<div class="t n m" id="m97" style="left:744px;top:713px;transform:translate(0.54px,0.60px) rotate(0.03deg)">97</div><div class="t n i" id="i97" style="left:827px;top:714px;transform:translate(0.97px,0.51px) rotate(0.03deg)">3.8<svg class="o" viewBox="0 -709 556 709"><path d="M272,0H366V-690H306C294,-635 246,-592 126,-580V-520H272Z"/></svg>89</div>
<div class="t n m" id="m98" style="left:744px;top:744px;transform:translate(0.54px,0.71px) rotate(0.03deg)">98</div><div class="t n i" id="i98" style="left:827px;top:745px;transform:translate(0.97px,0.68px) rotate(0.03deg)">3.8583</div>
<div class="t n m" id="m99" style="left:744px;top:775px;transform:translate(0.54px,0.82px) rotate(0.03deg)">99</div><div class="t n i" id="i99" style="left:827px;top:775px;transform:translate(0.97px,0.95px) rotate(0.03deg)">3.8976</div>
<div class="t n m" id="m100" style="left:744px;top:806px;transform:translate(0.54px,0.93px) rotate(0.03deg)"><svg class="o" viewBox="0 -709 556 709"><path d="M272,0H366V-690H306C294,-635 246,-592 126,-580V-520H272Z"/></svg>00</div><div class="t n i" id="i100" style="left:827px;top:808px;transform:translate(0.97px,0.02px) rotate(0.03deg)">3.9370</div>
<div class="a k" style="left:188px;top:204px;width:2px;height:627px"></div>
<div class="a k" style="left:376px;top:204px;width:2px;height:627px"></div>
<div class="a k" style="left:565px;top:204px;width:2px;height:627px"></div>
<div class="a k" style="left:756px;top:204px;width:2px;height:627px"></div>
</div></body></html>
